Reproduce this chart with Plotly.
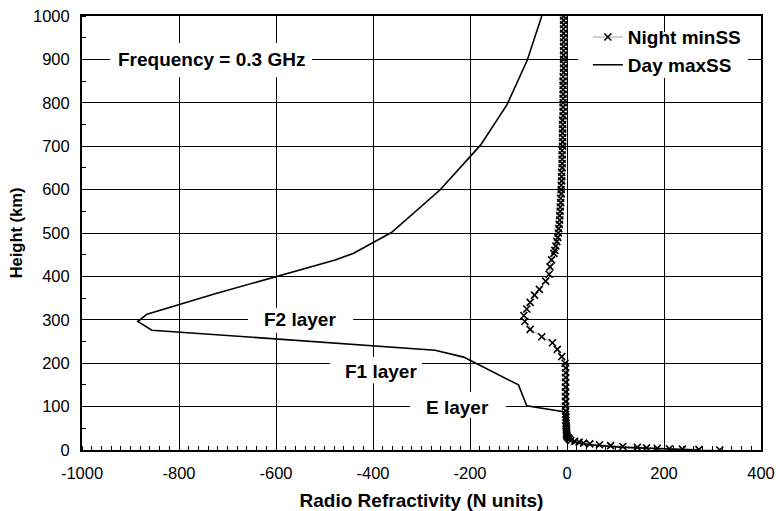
import plotly.graph_objects as go

# ---------------- data ----------------
night_h = [1000, 990, 980, 970, 960, 950, 940, 930, 920, 910, 900, 890, 880, 870, 860, 850,
           840, 830, 820, 810, 800, 790, 780, 770, 760, 750, 740, 730, 720, 710, 700, 690,
           680, 670, 660, 650, 640, 630, 620, 610, 600, 590, 580, 570, 560, 550, 540, 530,
           520, 510, 500, 490, 480, 470, 460,
           453, 438, 422, 405, 389, 370, 357, 340, 325, 310, 296, 278, 261, 247, 232, 215, 200,
           189, 178, 167, 156, 145, 134, 123, 112, 101, 90, 82, 75, 68, 62, 56, 51, 46, 42, 38,
           35, 32, 30, 28, 25, 22, 20, 18, 16, 14, 12, 10, 8, 6, 5, 4, 3, 2, 1, 0]
night_n = [-7, -7, -7, -7, -7, -7, -7, -7, -7, -7, -7, -7, -7, -7, -8, -8,
           -8, -8, -8, -8, -8, -8, -8, -8, -9, -9, -9, -9, -9, -9, -9, -10,
           -10, -10, -10, -10, -11, -11, -11, -12, -12, -12, -13, -13, -14, -14, -15, -15,
           -16, -17, -18, -19, -21, -23, -25,
           -27, -32, -35, -37, -44, -57, -67, -76, -83, -89, -87, -76, -52, -30, -20, -11, -4,
           -3, -3, -3, -3, -3, -3, -3, -3, -3, -3, -3, -2, -2, -2, -2, -1, -1, -1, -1,
           -1, 0, 1, 3, 5, 8, 16, 25, 34, 47, 67, 90, 115, 145, 164, 186, 211, 238, 272, 315]

day_h = [1000, 898, 795, 703, 672, 599, 501, 453, 438, 406, 361, 313, 296, 276, 230, 214,
         150, 102, 88, 60, 35, 30, 28, 25, 22, 20, 18, 16, 14, 12, 10, 8, 6, 5, 4, 3, 2, 1, 0]
day_n = [-52, -82, -124, -178, -203, -262, -362, -441, -478, -578, -722, -866, -885, -856, -272, -213,
         -100, -83, -7, -3, -1, 0, 1, 3, 5, 8, 16, 25, 34, 47, 67, 90, 115, 145, 164, 186, 211, 238, 272]

x_ticks = [-1000, -800, -600, -400, -200, 0, 200, 400]
y_ticks = [0, 100, 200, 300, 400, 500, 600, 700, 800, 900, 1000]

labels = ["Frequency = 0.3 GHz", "F2 layer", "F1 layer", "E layer"]
label_x = [-732, -551, -384, -225]
label_y = [899, 300, 180, 99]
# label boxes (x0, x1, y0, y1)
label_boxes = [(-942, -526, 859, 938), (-658, -441, 270, 328), (-489, -299, 154, 214), (-324, -126, 74, 134)]

FONT = "Liberation Sans, Arial, Helvetica, sans-serif"

fig = go.Figure()
fig.add_trace(go.Scatter(
    x=night_n, y=night_h, mode="lines+markers", name="<b>Night minSS</b>",
    line=dict(color="#c4c4c4", width=1.5),
    marker=dict(symbol="x-thin", size=7, color="black", line=dict(color="black", width=1.6)),
))
fig.add_trace(go.Scatter(
    x=day_n, y=day_h[:len(day_n)], mode="lines", name="<b>Day maxSS</b>",
    line=dict(color="black", width=1.6),
))

for (x0, x1, y0, y1) in label_boxes:
    fig.add_shape(type="rect", x0=x0, x1=x1, y0=y0, y1=y1, xref="x", yref="y",
                  fillcolor="white", line=dict(width=0), layer="between")
# legend box
fig.add_shape(type="rect", x0=23, x1=373, y0=857, y1=963, xref="x", yref="y",
              fillcolor="white", line=dict(width=0), layer="between")

for t, xx, yy in zip(labels, label_x, label_y):
    fig.add_annotation(x=xx, y=yy, text="<b>" + t + "</b>", showarrow=False,
                       font=dict(family=FONT, size=19, color="black"),
                       xanchor="center", yanchor="middle")

fig.update_layout(
    width=776, height=511,
    margin=dict(l=82, r=15, t=16, b=61),
    paper_bgcolor="white", plot_bgcolor="white",
    font=dict(family=FONT, size=16, color="black"),
    showlegend=True,
    legend=dict(x=0.745, y=0.995, xanchor="left", yanchor="top",
                bgcolor="rgba(0,0,0,0)", font=dict(family=FONT, size=19, color="black"),
                itemwidth=30, tracegroupgap=0),
)
fig.update_xaxes(
    range=[-1000, 400], tickvals=x_ticks, ticktext=[str(v) for v in x_ticks],
    showgrid=True, gridcolor="black", gridwidth=1,
    showline=True, linecolor="black", linewidth=2, mirror=True,
    ticks="", zeroline=False, automargin=False, ticklabelstandoff=7,
    ticklabeloverflow="allow",
    minor=dict(dtick=20, ticks="inside", ticklen=4, tickcolor="black", tickwidth=1, showgrid=False),
    title=dict(text="<b>Radio Refractivity (N units)</b>", font=dict(size=19), standoff=17),
    tickfont=dict(size=16.5),
)
fig.update_yaxes(
    range=[0, 1000], tickvals=y_ticks, ticktext=[str(v) for v in y_ticks],
    showgrid=True, gridcolor="black", gridwidth=1,
    showline=True, linecolor="black", linewidth=2, mirror=True,
    ticks="", zeroline=False, automargin=False, ticklabelstandoff=7,
    ticklabeloverflow="allow",
    minor=dict(dtick=50, ticks="inside", ticklen=4, tickcolor="black", tickwidth=1, showgrid=False),
    title=dict(text="<b>Height (km)</b>", font=dict(size=16.5), standoff=6),
    tickfont=dict(size=16.5),
)

# remove the browser's default body margin so the figure fills the window exactly
fig.write_html("out.html", config={"displayModeBar": False},
               post_script="document.body.style.margin='0';document.body.style.overflow='hidden';")
